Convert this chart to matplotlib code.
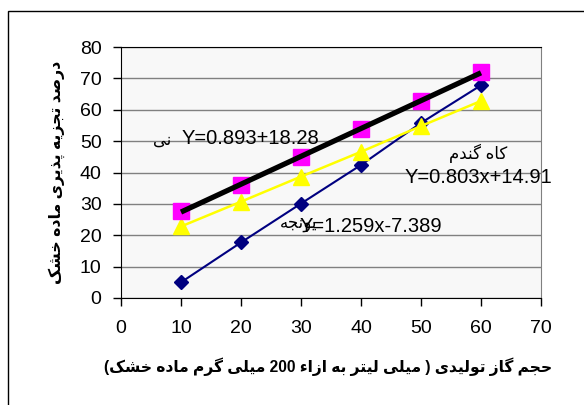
import unicodedata
import numpy as np
import matplotlib
matplotlib.use('Agg')
import matplotlib.pyplot as plt
from matplotlib.patches import Rectangle

plt.rcParams['font.family'] = ['Liberation Sans', 'DejaVu Sans']

# data
x_vals = [10, 20, 30, 40, 50, 60]
reed = [27.7, 36.0, 45.0, 54.0, 62.9, 71.9]        # magenta squares + black trendline
straw = [22.8, 30.7, 38.7, 46.6, 54.8, 62.8]       # yellow triangles
alfalfa = [5.0, 17.7, 30.1, 42.4, 55.8, 67.8]      # navy diamonds

x_ticks = [0, 10, 20, 30, 40, 50, 60, 70]
y_ticks = [0, 10, 20, 30, 40, 50, 60, 70, 80]

xlabel_fa = "حجم گاز تولیدی ( میلی لیتر به ازاء 200 میلی گرم ماده خشک)"
ylabel_fa = "درصد تجزیه پذیری ماده خشک"
eq_reed = "Y=0.893+18.28"
eq_straw = "Y=0.803x+14.91"
eq_alfalfa = "Y=1.259x-7.389"
name_reed = "نی"
name_straw = "کاه گندم"
name_alfalfa = "یونجه"


# matplotlib has no arabic shaping, so do a small one by hand
def is_ar(c):
    return '\u0600' <= c <= '\u06ff'


def dual(c):
    try:
        unicodedata.lookup(unicodedata.name(c) + ' INITIAL FORM')
        return True
    except KeyError:
        return False


def shape(word):
    out = []
    for i, c in enumerate(word):
        if not is_ar(c):
            out.append(c)
            continue
        prev = word[i - 1] if i > 0 else ''
        nxt = word[i + 1] if i < len(word) - 1 else ''
        jp = bool(prev) and is_ar(prev) and dual(prev)
        jn = bool(nxt) and is_ar(nxt) and dual(c)
        form = {(True, True): 'MEDIAL', (True, False): 'FINAL',
                (False, True): 'INITIAL', (False, False): 'ISOLATED'}[(jp, jn)]
        try:
            out.append(unicodedata.lookup(unicodedata.name(c) + ' ' + form + ' FORM'))
        except KeyError:
            out.append(c)
    return out


def rtl(s):
    mirror = {'(': ')', ')': '('}
    vis = []
    for t in s.split(' '):
        if any(is_ar(c) for c in t) or t in ('(', ')'):
            chars = shape(t)[::-1]
            vis.append(''.join(mirror.get(c, c) for c in chars))
        else:
            vis.append(t)
    return ' '.join(vis[::-1])


W, H = 584, 405
fig = plt.figure(figsize=(W / 100, H / 100), dpi=100)


def P(px, py):
    return px / W, 1 - py / H


# outer frame of the chart object
fig.patches.append(Rectangle(P(8, 420), (W + 20) / W, 409 / H, transform=fig.transFigure,
                             fill=False, edgecolor='black', linewidth=1))

ax = fig.add_axes([121 / W, 1 - 298 / H, 420 / W, 251 / H])
ax.set_facecolor('#F8F8F8')

ax.plot(x_vals, alfalfa, color='#000080', linewidth=1.5, marker='D', markersize=7,
        markerfacecolor='#000080', markeredgecolor='#000080', zorder=3)
ax.plot(x_vals, straw, color='#FFFF00', linewidth=1.8, marker='^', markersize=12,
        markerfacecolor='#FFFF00', markeredgecolor='#FFFF00', zorder=4)
ax.plot(x_vals, reed, linestyle='none', marker='s', markersize=11.5,
        markerfacecolor='#FF00FF', markeredgecolor='#FF00FF', zorder=5)
k, b = np.polyfit(x_vals, reed, 1)
xf = np.array([x_vals[0], x_vals[-1]])
ax.plot(xf, k * xf + b, color='black', linewidth=3.8, solid_capstyle='butt', zorder=6)

ax.set_xlim(0, 70)
ax.set_ylim(0, 80)
ax.set_xticks(x_ticks)
ax.set_yticks(y_ticks)
ax.tick_params(axis='both', direction='out', length=6, width=1, labelsize=14, colors='black')
ax.tick_params(axis='x', pad=10)
ax.tick_params(axis='y', pad=8)
ax.yaxis.grid(True, color='#808080', linewidth=1)
ax.set_axisbelow(True)
for s in ['left', 'bottom', 'top']:
    ax.spines[s].set_color('black')
ax.spines['right'].set_color('#808080')

# axis titles
fig.text(*P(328, 367), rtl(xlabel_fa), ha='center', va='center', fontsize=11.2, fontweight='bold')
fig.text(*P(57, 172), rtl(ylabel_fa), ha='center', va='center', fontsize=11.3, fontweight='bold',
         rotation=90)

# trendline labels
fig.text(*P(162, 140), rtl(name_reed), ha='center', va='center', fontsize=12)
fig.text(*P(182, 138), eq_reed, ha='left', va='center', fontsize=14.5)
fig.text(*P(478, 153), rtl(name_straw), ha='center', va='center', fontsize=12)
fig.text(*P(405, 177), eq_straw, ha='left', va='center', fontsize=14.5)
fig.text(*P(280, 225), rtl(name_alfalfa), ha='left', va='center', fontsize=12)
fig.text(*P(300, 227), eq_alfalfa, ha='left', va='center', fontsize=14.5)

fig.savefig('out.png', dpi=100)
